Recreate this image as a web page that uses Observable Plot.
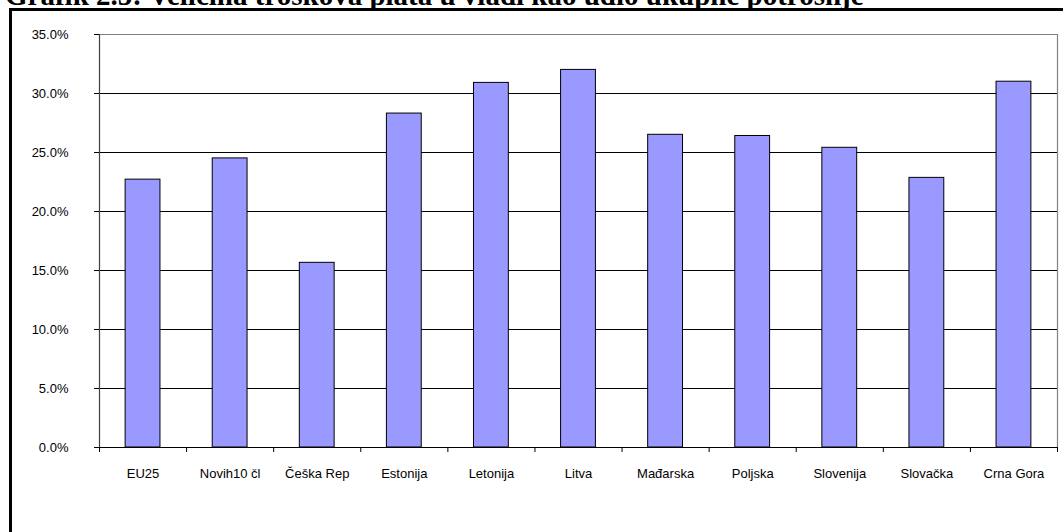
<!DOCTYPE html>
<html>
<head>
<meta charset="utf-8">
<script src="https://cdn.jsdelivr.net/npm/d3@7"></script>
<script src="https://cdn.jsdelivr.net/npm/@observablehq/plot@0.6"></script>
<style>
  html, body { margin: 0; padding: 0; background: #fff; overflow: hidden; }
  #wrap { position: relative; width: 1063px; height: 532px; overflow: hidden; }
  #title {
    position: absolute; left: 5px; top: -19px; margin: 0;
    font: bold 29px "Liberation Serif", "Times New Roman", serif;
    line-height: 29px; white-space: nowrap; color: #000;
  }
  #frame {
    position: absolute; left: 9px; top: 8px; width: 1200px; height: 700px;
    border-left: 3px solid #000; border-top: 3px solid #000;
    pointer-events: none;
  }
  #chart { position: absolute; left: 0; top: 0; }
</style>
</head>
<body>
<div id="wrap">
  <div id="chart"></div>
  <div id="frame"></div>
  <h2 id="title">Grafik 2.5: Veličina troškova plata u vladi kao udio ukupne potrošnje</h2>
</div>
<script>
// Wage bill as a share of total government spending
const categories = ["EU25", "Novih10 čl", "Češka Rep", "Estonija", "Letonija", "Litva",
                    "Mađarska", "Poljska", "Slovenija", "Slovačka", "Crna Gora"];
const shares = [0.227, 0.245, 0.1565, 0.283, 0.309, 0.320, 0.265, 0.264, 0.254, 0.2285, 0.310];
const yTicks = [0, 0.05, 0.10, 0.15, 0.20, 0.25, 0.30, 0.35];

const rows = categories.map((name, i) => ({name, i, value: shares[i]}));
const n = categories.length;
const font = "Liberation Sans, Arial, sans-serif";

const chart = Plot.plot({
  width: 1063,
  height: 532,
  marginLeft: 99,
  marginRight: 6,
  marginTop: 34,
  marginBottom: 85,
  style: {fontFamily: font, fontSize: "13px", color: "#000", background: "transparent"},
  x: {type: "linear", domain: [0, n], label: null},
  y: {domain: [0, 0.35], label: null},
  marks: [
    // horizontal gridlines
    Plot.ruleY(yTicks.filter(t => t > 0 && t < 0.35), {stroke: "#000", strokeWidth: 1}),
    // plot frame (top and right) in grey
    Plot.ruleY([0.35], {stroke: "#808080", strokeWidth: 1.2}),
    Plot.ruleX([n], {stroke: "#808080", strokeWidth: 1.2}),
    // bars
    Plot.rectY(rows, {
      x1: d => d.i + 0.3, x2: d => d.i + 0.7, y: "value",
      fill: "#9999ff", stroke: "#000", strokeWidth: 1
    }),
    // axes
    Plot.ruleX([0], {stroke: "#404040", strokeWidth: 1.2}),
    Plot.ruleY([0], {stroke: "#000", strokeWidth: 1}),
    Plot.axisY({
      ticks: yTicks, tickFormat: d3.format(".1%"), tickSize: 5, tickPadding: 26,
      stroke: "#000", fill: "#000", fontSize: 13, label: null
    }),
    Plot.axisX({
      ticks: d3.range(0, n + 1), tickFormat: () => "", tickSize: 5, stroke: "#000", label: null
    }),
    Plot.axisX({
      ticks: d3.range(0, n).map(i => i + 0.5), tickSize: 0, tickPadding: 21,
      tickFormat: v => categories[Math.round(v - 0.5)], fill: "#000", fontSize: 13, label: null
    })
  ]
});

document.getElementById("chart").appendChild(chart);
</script>
</body>
</html>
